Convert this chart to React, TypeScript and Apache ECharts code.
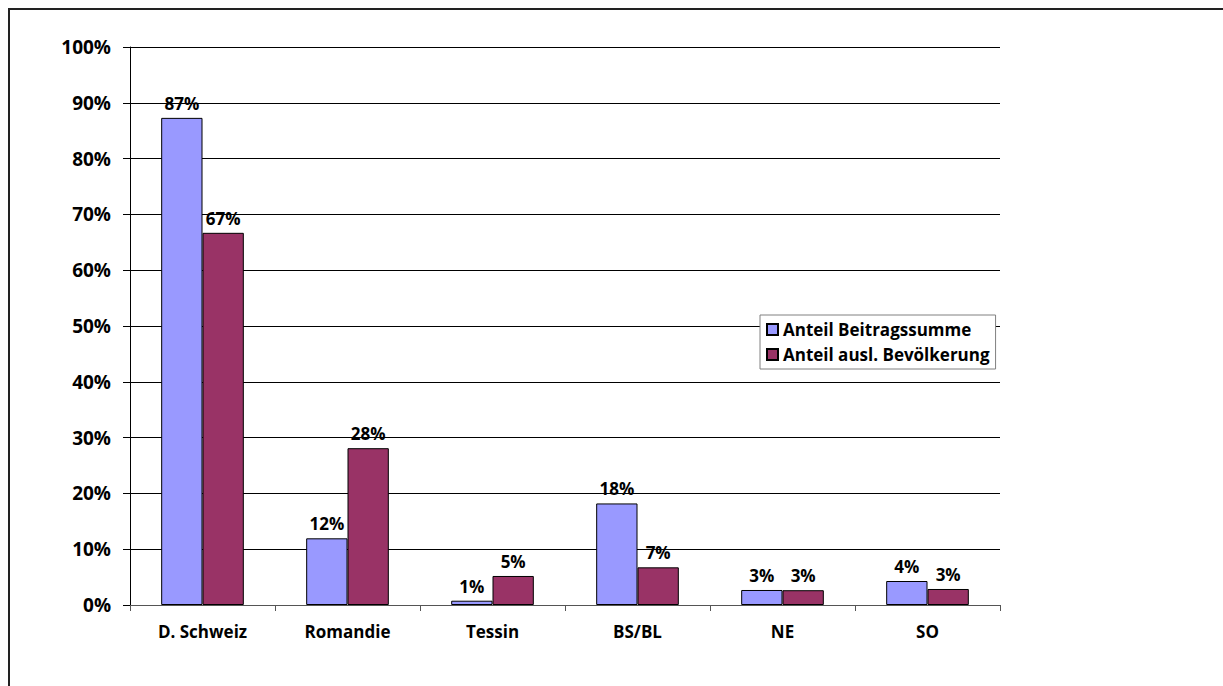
import React, { useEffect, useRef } from "react";
import * as echarts from "echarts";

const categories = ["D. Schweiz", "Romandie", "Tessin", "BS/BL", "NE", "SO"];
const seriesNames = ["Anteil Beitragssumme", "Anteil ausl. Bevölkerung"];
const beitragssumme = [87.3, 11.95, 0.77, 18.2, 2.69, 4.3];
const bevoelkerung = [66.7, 28.1, 5.2, 6.75, 2.65, 2.87];
const yTicks = { min: 0, max: 100, interval: 10 };

const FONT = "'Open Sans', 'Noto Sans', sans-serif";

export default function App() {
  const ref = useRef<HTMLDivElement>(null);
  useEffect(() => {
    document.body.style.margin = "0";
    if (!ref.current) return;
    const chart = echarts.init(ref.current, undefined, { renderer: "svg" });
    const label = {
      show: true,
      position: "top" as const,
      distance: 6,
      color: "#000",
      fontWeight: "bold" as const,
      fontSize: 17,
      fontFamily: FONT,
      formatter: (p: any) => Math.round(p.value) + "%",
    };
    chart.setOption({
      animation: false,
      backgroundColor: "#fff",
      graphic: [
        {
          type: "rect",
          shape: { x: 9, y: 9, width: 1400, height: 900 },
          style: { fill: "none", stroke: "#222", lineWidth: 2 },
          silent: true,
        },
      ],
      grid: { left: 130, top: 47, right: 223, bottom: 81 },
      legend: {
        orient: "vertical",
        left: 760,
        top: 315,
        itemWidth: 11,
        itemHeight: 11,
        itemGap: 8,
        padding: [6, 6, 6, 6],
        backgroundColor: "#fff",
        borderColor: "#808080",
        borderWidth: 1,
        borderRadius: 0,
        icon: "rect",
        textStyle: { color: "#000", fontWeight: "bold", fontSize: 17, fontFamily: FONT },
        data: seriesNames,
      },
      xAxis: {
        type: "category",
        data: categories,
        axisLine: { lineStyle: { color: "#555", width: 1 } },
        axisTick: { show: true, length: 6, lineStyle: { color: "#555" } },
        axisLabel: { color: "#000", fontWeight: "bold", fontSize: 17, fontFamily: FONT, margin: 18 },
      },
      yAxis: {
        type: "value",
        min: yTicks.min,
        max: yTicks.max,
        interval: yTicks.interval,
        axisLine: { show: true, lineStyle: { color: "#000", width: 1 } },
        axisTick: { show: true, length: 7, lineStyle: { color: "#000" } },
        axisLabel: {
          color: "#000",
          fontWeight: "bold",
          fontSize: 19,
          fontFamily: FONT,
          margin: 19,
          formatter: "{value}%",
        },
        splitLine: { show: true, lineStyle: { color: "#000", width: 1 } },
      },
      series: [
        {
          name: seriesNames[0],
          type: "bar",
          data: beitragssumme,
          barGap: "0%",
          barCategoryGap: "43%",
          itemStyle: { color: "#9999FF", borderColor: "#000", borderWidth: 1 },
          label,
        },
        {
          name: seriesNames[1],
          type: "bar",
          data: bevoelkerung,
          barGap: "0%",
          barCategoryGap: "43%",
          itemStyle: { color: "#993366", borderColor: "#000", borderWidth: 1 },
          label,
        },
      ],
    });
    return () => chart.dispose();
  }, []);
  return <div ref={ref} style={{ width: 1223, height: 686 }} />;
}
